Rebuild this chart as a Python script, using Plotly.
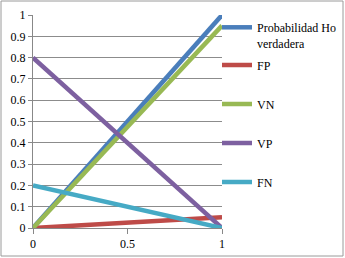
import plotly.graph_objects as go

x_vals = [0, 1]
prob_ho = [0, 1]
fp = [0, 0.05]
vn = [0, 0.95]
vp = [0.8, 0]
fn = [0.2, 0]
names = ["Probabilidad Ho<br>verdadera", "FP", "VN", "VP", "FN"]
colors = ["#4A7EBB", "#BE4B48", "#98B954", "#7D60A0", "#46AAC5"]
series = [prob_ho, fp, vn, vp, fn]

L, R, T, B = 33, 222, 15, 228
W, H = 345, 258
pw, ph = R - L, B - T
legend_ys = [26, 65, 104, 143, 182]

FONT = "Liberation Serif, Times New Roman, serif"
fig = go.Figure()
legends = {}
for i, (n, c, s) in enumerate(zip(names, colors, series)):
    key = "legend" if i == 0 else f"legend{i+1}"
    fig.add_trace(go.Scatter(x=x_vals, y=s, mode="lines", name=n,
                             line=dict(color=c, width=4.5), legend=key))
    ypaper = (B - legend_ys[i]) / ph
    legends[key] = dict(x=(217 - L) / pw, y=ypaper, xanchor="left", yanchor="middle",
                        bgcolor="rgba(0,0,0,0)", borderwidth=0,
                        font=dict(family=FONT, size=12, color="#000"))

legends["legend"].update(valign="top", yanchor="top",
                         y=(B - legend_ys[0] + 13) / ph)

fig.update_layout(
    width=W, height=H,
    margin=dict(l=L, r=W - R, t=T, b=H - B, autoexpand=False),
    paper_bgcolor="white", plot_bgcolor="white",
    font=dict(family=FONT, size=12, color="#000"),
    showlegend=True,
    xaxis=dict(range=[0, 1], tickvals=[0, 0.5, 1], ticktext=["0", "0.5", "1"],
               showgrid=False, zeroline=False, showline=True, linecolor="#888888",
               linewidth=1, ticks="outside", ticklen=5, tickcolor="#888888"),
    yaxis=dict(range=[0, 1], tickvals=[i / 10 for i in range(11)],
               ticktext=["0", "0.1", "0.2", "0.3", "0.4", "0.5", "0.6", "0.7", "0.8", "0.9", "1"],
               showgrid=True, gridcolor="#8C8C8C", gridwidth=1, zeroline=False,
               showline=True, linecolor="#888888", linewidth=1,
               ticks="outside", ticklen=4, tickcolor="#888888"),
    shapes=[dict(type="rect", xref="paper", yref="paper",
                 x0=(1 - L) / pw, x1=(343 - L) / pw,
                 y0=(B - 256) / ph, y1=(B - 1) / ph,
                 line=dict(color="#9A9A9A", width=1), layer="below")],
    **legends,
)
fig.write_html("out.html", config={"displayModeBar": False},
               post_script="document.body.style.margin='0';document.body.style.padding='0';")
